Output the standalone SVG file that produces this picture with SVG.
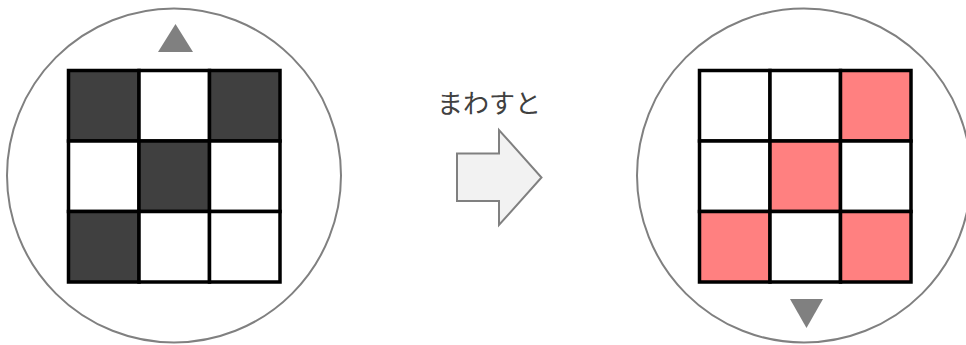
<svg xmlns="http://www.w3.org/2000/svg" width="966" height="345" viewBox="0 0 966 345">
<style>
.ring{fill:#fff;stroke:#808080;stroke-width:2}
.cell{stroke:#000;stroke-width:3.5}
.w{fill:#fff}
.d{fill:#404040}
.p{fill:#ff8080}
.mark{fill:#808080}
.lbl{font-family:"Noto Sans CJK JP",sans-serif;font-size:26px;fill:#404040}
</style>
<rect width="966" height="345" fill="#fff"/>
<g id="before">
<circle class="ring" cx="174" cy="175.5" r="167"/>
<polygon class="mark" points="158,52 193,52 175.5,24"/>
<rect class="cell d" x="68.5" y="70.5" width="70.5" height="70.5"/>
<rect class="cell w" x="139" y="70.5" width="70.5" height="70.5"/>
<rect class="cell d" x="209.5" y="70.5" width="70.5" height="70.5"/>
<rect class="cell w" x="68.5" y="141" width="70.5" height="70.5"/>
<rect class="cell d" x="139" y="141" width="70.5" height="70.5"/>
<rect class="cell w" x="209.5" y="141" width="70.5" height="70.5"/>
<rect class="cell d" x="68.5" y="211.5" width="70.5" height="70.5"/>
<rect class="cell w" x="139" y="211.5" width="70.5" height="70.5"/>
<rect class="cell w" x="209.5" y="211.5" width="70.5" height="70.5"/>
</g>
<g id="turn">
<text class="lbl" x="489" y="113" text-anchor="middle">まわすと</text>
<polygon points="457,153.5 499,153.5 499,130 541.5,177.5 499,225 499,201 457,201" fill="#f2f2f2" stroke="#808080" stroke-width="2"/>
</g>
<g id="after">
<circle class="ring" cx="804" cy="175.5" r="167"/>
<rect class="cell w" x="699.5" y="70.5" width="70.5" height="70.5"/>
<rect class="cell w" x="770" y="70.5" width="70.5" height="70.5"/>
<rect class="cell p" x="840.5" y="70.5" width="70.5" height="70.5"/>
<rect class="cell w" x="699.5" y="141" width="70.5" height="70.5"/>
<rect class="cell p" x="770" y="141" width="70.5" height="70.5"/>
<rect class="cell w" x="840.5" y="141" width="70.5" height="70.5"/>
<rect class="cell p" x="699.5" y="211.5" width="70.5" height="70.5"/>
<rect class="cell w" x="770" y="211.5" width="70.5" height="70.5"/>
<rect class="cell p" x="840.5" y="211.5" width="70.5" height="70.5"/>
<polygon class="mark" points="790,299 823,299 806.5,328"/>
</g>
</svg>
